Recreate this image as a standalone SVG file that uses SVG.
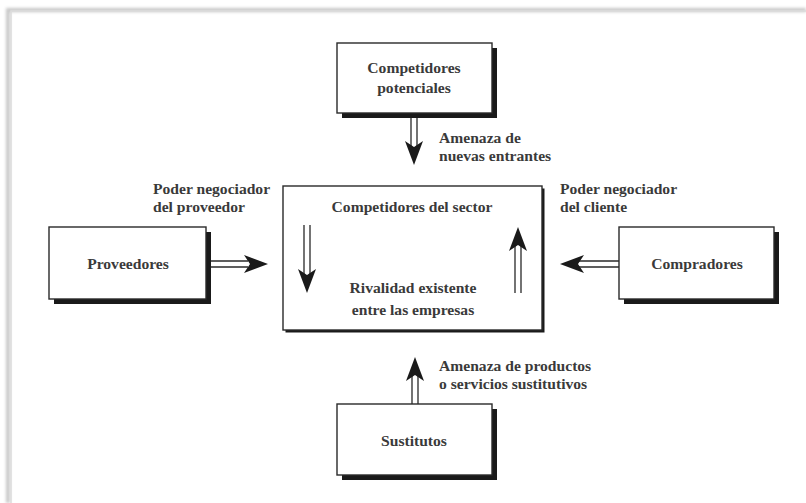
<svg xmlns="http://www.w3.org/2000/svg" width="806" height="503" viewBox="0 0 806 503">
  <style>
    .box { fill: #ffffff; stroke: #2a2a2a; stroke-width: 1.4; }
    .shadow { fill: #1a1a1a; }
    .t { font-family: "Liberation Serif", "DejaVu Serif", serif; font-weight: bold; font-size: 15.6px; fill: #3a3a3a; }
    .c { text-anchor: middle; }
    .shaft { stroke: #2a2a2a; stroke-width: 1.3; fill: none; }
    .head { fill: #1a1a1a; }
  </style>
  <defs>
    <path id="ah" d="M0,0 L-24,-9 L-18,0 L-24,9 Z"/>
    <filter id="blur" x="-50%" y="-50%" width="200%" height="200%">
      <feGaussianBlur stdDeviation="1.5"/>
    </filter>
  </defs>
  <rect x="0" y="0" width="806" height="503" fill="#ffffff"/>
  <!-- page frame -->
  <g id="frame">
    <path d="M8,503 L8,10 L806,10" fill="none" stroke="#c8c8c8" stroke-width="4" filter="url(#blur)"/>
    <path d="M11,503 L11,11 L806,11" fill="none" stroke="#dcdcdc" stroke-width="1.5"/>
  </g>

  <g id="node-potenciales">
    <rect class="shadow" x="342" y="48" width="155" height="70"/>
    <rect class="box" x="337" y="43" width="155" height="70"/>
    <text class="t c" x="414" y="73">Competidores</text>
    <text class="t c" x="414" y="93">potenciales</text>
  </g>

  <g id="node-sector">
    <rect class="shadow" x="285.5" y="188.5" width="259" height="144"/>
    <rect class="box" x="283" y="186" width="259" height="144"/>
    <text class="t c" x="412" y="212">Competidores del sector</text>
    <text class="t c" x="413" y="293">Rivalidad existente</text>
    <text class="t c" x="413" y="315">entre las empresas</text>
  </g>

  <g id="node-proveedores">
    <rect class="shadow" x="54" y="232" width="157" height="72"/>
    <rect class="box" x="49" y="227" width="157" height="72"/>
    <text class="t c" x="128" y="269">Proveedores</text>
  </g>

  <g id="node-compradores">
    <rect class="shadow" x="624" y="232" width="155" height="72"/>
    <rect class="box" x="619" y="227" width="155" height="72"/>
    <text class="t c" x="697" y="269">Compradores</text>
  </g>

  <g id="node-sustitutos">
    <rect class="shadow" x="342" y="409" width="155" height="71"/>
    <rect class="box" x="337" y="404" width="155" height="71"/>
    <text class="t c" x="414" y="446">Sustitutos</text>
  </g>

  <g id="labels">
    <text class="t" x="439" y="143">Amenaza de</text>
    <text class="t" x="439" y="161">nuevas entrantes</text>
    <text class="t" x="153" y="194">Poder negociador</text>
    <text class="t" x="153" y="212">del proveedor</text>
    <text class="t" x="560" y="194">Poder negociador</text>
    <text class="t" x="560" y="212">del cliente</text>
    <text class="t" x="439" y="371">Amenaza de productos</text>
    <text class="t" x="439" y="389">o servicios sustitutivos</text>
  </g>

  <g id="connectors">
    <!-- top: potenciales -> sector -->
    <path class="shaft" d="M411,118 V146 M417,118 V146"/>
    <use href="#ah" class="head" transform="translate(414,165) rotate(90)"/>
    <!-- proveedores -> sector -->
    <path class="shaft" d="M211,261 H248 M211,267 H248"/>
    <use href="#ah" class="head" transform="translate(268,264)"/>
    <!-- compradores -> sector -->
    <path class="shaft" d="M619,261 H578 M619,267 H578"/>
    <use href="#ah" class="head" transform="translate(560,264) rotate(180)"/>
    <!-- sustitutos -> sector -->
    <path class="shaft" d="M412,404 V376 M418,404 V376"/>
    <use href="#ah" class="head" transform="translate(415,357) rotate(-90)"/>
    <!-- inside down -->
    <path class="shaft" d="M304,225 V275 M310,225 V275"/>
    <use href="#ah" class="head" transform="translate(307,293) rotate(90)"/>
    <!-- inside up -->
    <path class="shaft" d="M515,293 V245 M521,293 V245"/>
    <use href="#ah" class="head" transform="translate(518,227) rotate(-90)"/>
  </g>
</svg>
